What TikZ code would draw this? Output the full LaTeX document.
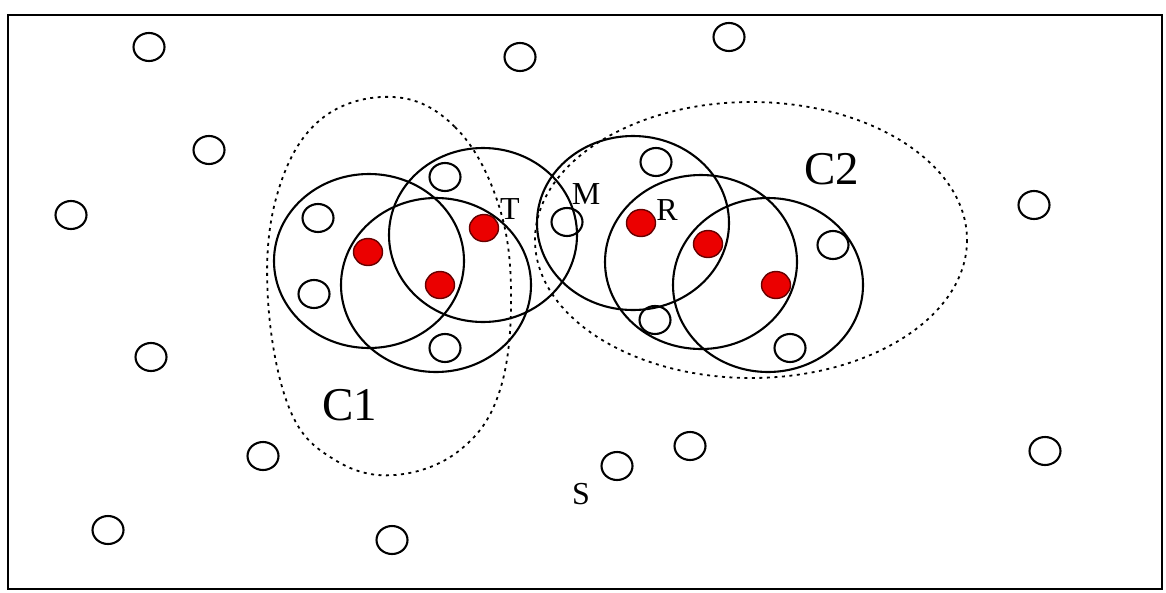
\documentclass[tikz,border=0pt]{standalone}
\usepackage{fontspec}
\setmainfont{Liberation Serif}
\usetikzlibrary{shapes.geometric}
\begin{document}
\begin{tikzpicture}[x=1pt,y=-1pt,
  sensor/.style={draw=black,line width=2.1pt,ellipse,minimum width=31pt,minimum height=28pt,inner sep=0pt},
  head/.style={draw=black!60!red,line width=1.4pt,ellipse,fill=red!92!black,minimum width=29pt,minimum height=27pt,inner sep=0pt},
  radiorange/.style={draw=black,line width=2.1pt},
  cluster/.style={draw=black,line width=1.8pt,dash pattern=on 3pt off 4.5pt},
  biglbl/.style={font=\fontsize{47}{54}\selectfont,inner sep=0pt},
  smalllbl/.style={font=\fontsize{32}{38}\selectfont,inner sep=0pt}]
\useasboundingbox (0,0) rectangle (1166,592);
\draw[line width=2.2pt] (8,15) rectangle (1162,589);
% cluster boundaries
\draw[cluster] plot[smooth cycle,tension=0.65] coordinates {(393,97) (455,127) (497,200) (511,290) (500,390) (460,450) (395,475) (335,460) (290,410) (268,300) (277,195) (320,120)};
\draw[cluster] (751,240) ellipse[x radius=216,y radius=138];
% radio ranges
\draw[radiorange] (369,261) ellipse[x radius=95,y radius=87];
\draw[radiorange] (436,285) ellipse[x radius=95,y radius=87];
\draw[radiorange] (483,235) ellipse[x radius=94,y radius=87];
\draw[radiorange] (633,223) ellipse[x radius=96,y radius=87];
\draw[radiorange] (701,262) ellipse[x radius=96,y radius=87];
\draw[radiorange] (768,285) ellipse[x radius=95,y radius=87];
% ordinary sensors
\node[sensor] (n1) at (149,47) {};
\node[sensor] (n2) at (520,57) {};
\node[sensor] (n3) at (729,37) {};
\node[sensor] (n4) at (209,150) {};
\node[sensor] (n5) at (71,215) {};
\node[sensor] (n6) at (1034,205) {};
\node[sensor] (n7) at (151,357) {};
\node[sensor] (n8) at (263,456) {};
\node[sensor] (n9) at (108,530) {};
\node[sensor] (n10) at (392,540) {};
\node[sensor] (n11) at (617,466) {};
\node[sensor] (n12) at (690,446) {};
\node[sensor] (n13) at (1045,451) {};
\node[sensor] (n14) at (318,218) {};
\node[sensor] (n15) at (445,177) {};
\node[sensor] (n16) at (314,294) {};
\node[sensor] (n17) at (445,348) {};
\node[sensor] (m) at (567,222) {};
\node[sensor] (n19) at (656,162) {};
\node[sensor] (n20) at (833,245) {};
\node[sensor] (n21) at (655,320) {};
\node[sensor] (n22) at (790,348) {};
% cluster heads
\node[head] (h1) at (368,252) {};
\node[head] (h2) at (440,285) {};
\node[head] (t) at (484,228) {};
\node[head] (r) at (641,223) {};
\node[head] (h5) at (708,244) {};
\node[head] (h6) at (776,285) {};
% labels
\node[smalllbl] (lt) at (510,209) {T};
\node[smalllbl] (lm) at (586,194) {M};
\node[smalllbl] (lr) at (667,210) {R};
\node[smalllbl] (ls) at (581,494) {S};
\node[biglbl] (lc1) at (350,405) {C1};
\node[biglbl] (lc2) at (832,169) {C2};
\end{tikzpicture}
\end{document}
